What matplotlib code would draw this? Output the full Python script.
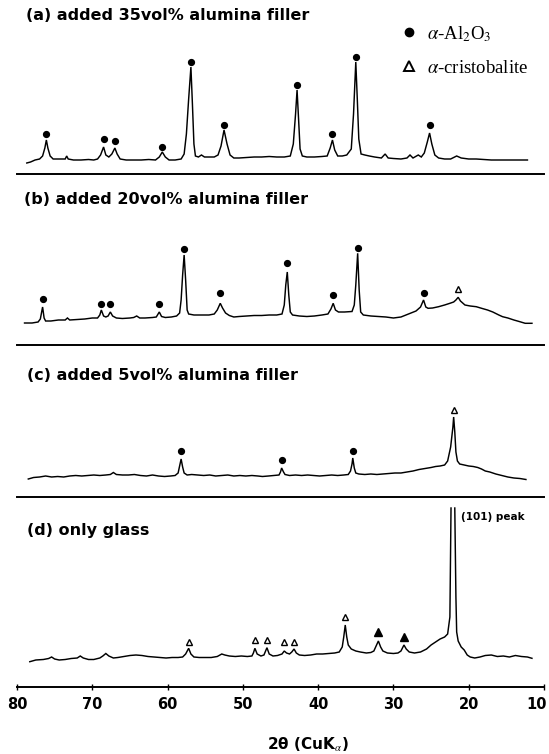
import numpy as np
import matplotlib
matplotlib.use("Agg")
import matplotlib.pyplot as plt
from matplotlib.lines import Line2D
from matplotlib.transforms import ScaledTranslation

plt.rcParams["mathtext.fontset"] = "stix"

# ---------------- data (2theta in degrees, intensity in arbitrary units) -------------
titles = ["(a) added 35vol% alumina filler",
          "(b) added 20vol% alumina filler",
          "(c) added 5vol% alumina filler",
          "(d) only glass"]

tt_a = [78.7, 78.2, 77.6, 77.0, 76.6, 76.3, 76.1, 75.9, 75.6, 75.2, 74.5, 73.6, 73.4, 73.2,
        72.5, 71.5, 70.5, 69.8, 69.3, 68.9, 68.5, 68.2, 67.8, 67.4, 67.0, 66.7, 66.3, 65.5,
        64.5, 63.5, 62.5, 61.6, 61.1, 60.7, 60.3, 59.8, 59.0, 58.2, 57.8, 57.5, 57.2, 56.9,
        56.7, 56.5, 56.3, 55.9, 55.5, 55.1, 54.5, 53.8, 53.3, 52.9, 52.5, 52.1, 51.7, 51.2,
        50.5, 49.5, 48.5, 47.5, 46.5, 45.5, 44.5, 43.7, 43.3, 43.0, 42.8, 42.6, 42.4, 42.1,
        41.5, 40.5, 39.5, 38.8, 38.4, 38.1, 37.8, 37.4, 36.8, 36.2, 35.6, 35.3, 35.0, 34.8,
        34.6, 34.3, 33.8, 33.2, 32.5, 31.6, 31.1, 30.7, 30.0, 29.0, 28.2, 27.8, 27.4, 26.7,
        26.3, 25.9, 25.5, 25.2, 24.9, 24.5, 24.0, 23.2, 22.4, 21.6, 21.0, 20.0, 19.0, 18.0,
        17.0, 16.0, 15.0, 14.0, 13.0, 12.2]
I_a = [11, 12, 14, 15, 18, 26, 34, 26, 18, 15, 15, 15, 18, 15,
       14, 14, 14.5, 14, 15, 19, 27, 19, 17, 20, 26, 20, 15, 14,
       14, 14, 14.5, 14, 17, 22, 17, 14, 14, 15, 20, 40, 75, 107,
       70, 30, 18, 17, 19, 17, 17, 17, 19, 28, 44, 30, 19, 16,
       16, 16.5, 17, 17, 17.5, 17, 17, 18, 30, 60, 84, 55, 25, 18,
       17, 17, 17.5, 18, 26, 34, 24, 18, 18, 19, 25, 60, 112, 75,
       35, 20, 19, 18, 17, 16, 20, 16, 15.5, 15, 16, 19, 16, 19,
       17, 21, 32, 41, 30, 19, 16, 15, 15, 18, 16, 15, 15, 14.5,
       14, 14, 14, 14, 14, 14]

tt_b = [79.0, 78.0, 77.2, 76.9, 76.6, 76.4, 76.2, 75.5, 74.5, 73.6, 73.3, 73.0, 72.0, 71.0,
        70.0, 69.3, 69.0, 68.8, 68.5, 68.2, 67.9, 67.6, 67.3, 66.8, 66.0, 65.0, 64.5, 64.1,
        63.7, 63.0, 62.0, 61.5, 61.1, 60.8, 60.3, 59.5, 58.8, 58.4, 58.2, 58.0, 57.8, 57.6,
        57.4, 57.2, 56.5, 55.5, 54.5, 53.8, 53.4, 53.0, 52.7, 52.3, 51.8, 51.2, 50.5, 49.5,
        48.5, 47.5, 46.5, 45.5, 44.8, 44.5, 44.3, 44.1, 43.9, 43.7, 43.4, 42.5, 41.5, 40.5,
        39.5, 38.7, 38.3, 38.0, 37.7, 37.3, 36.5, 35.5, 35.2, 35.0, 34.75, 34.55, 34.35, 34.0,
        33.0, 32.0, 31.0, 30.0, 29.0, 28.0, 27.0, 26.4, 26.0, 25.7, 25.4, 24.8, 24.0, 23.2,
        22.5, 22.0, 21.7, 21.4, 21.1, 20.5, 19.8, 19.0, 18.2, 17.5, 16.8, 16.0, 15.5, 14.8,
        14.0, 13.3, 12.5, 11.6]
I_b = [22, 22, 23, 26, 38, 27, 24, 24, 25, 25, 27, 25, 25.5, 26,
       27, 27, 30, 35, 29, 28, 29, 33, 29, 27, 26.5, 27, 27.5, 29,
       27, 27, 27.5, 28, 33, 28.5, 27.5, 28, 29, 32, 45, 70, 90, 65,
       35, 31, 30, 30, 30, 31, 35, 41.7, 37, 32, 29.5, 28, 28.5, 29,
       29.5, 29.5, 30, 30, 31, 40, 60, 73, 50, 33, 30, 29, 28.5, 29,
       30, 31, 36, 41.7, 35, 33, 33, 33.5, 40, 60, 91.7, 55, 33, 30,
       29, 28.5, 28, 27, 28, 31, 34, 38, 45, 38, 36.7, 37, 38.3, 40,
       41.7, 43, 45, 47.7, 44, 40, 39, 38.3, 36.5, 35, 33, 30, 28.3, 27,
       25, 23.5, 21.7, 21.7]

tt_c = [78.5, 77.8, 77.0, 76.2, 75.4, 74.6, 73.8, 73.0, 72.2, 71.4, 70.6, 69.8, 69.0, 68.2,
        67.6, 67.2, 66.8, 66.0, 65.2, 64.4, 63.6, 62.8, 62.0, 61.2, 60.4, 59.6, 59.0, 58.6,
        58.4, 58.2, 58.0, 57.8, 57.4, 56.8, 56.0, 55.2, 54.4, 53.6, 52.8, 52.0, 51.2, 50.4,
        49.6, 48.8, 48.0, 47.4, 46.6, 45.9, 45.2, 45.0, 44.85, 44.6, 44.4, 43.8, 43.0, 42.2,
        41.4, 40.6, 39.8, 39.0, 38.2, 37.4, 36.6, 36.0, 35.7, 35.5, 35.4, 35.2, 35.0, 34.6,
        33.8, 33.0, 32.2, 31.4, 30.6, 29.8, 29.0, 28.2, 27.4, 26.6, 25.8, 25.0, 24.4, 23.8,
        23.2, 22.8, 22.4, 22.1, 22.0, 21.85, 21.7, 21.5, 21.2, 20.6, 20.0, 19.4, 18.8, 18.3,
        17.8, 17.2, 16.4, 15.6, 14.8, 14.0, 13.2, 12.4]
I_c = [18, 19.5, 20, 21, 20, 20.5, 20, 21, 21.5, 21, 21.5, 22, 21.5, 22,
       22.5, 24.5, 22.5, 22, 22, 22.5, 21.5, 21, 22, 21, 20.5, 21, 21.5, 24,
       31, 38, 30, 24, 22, 22.5, 22, 21.5, 22, 21, 21.5, 22, 21, 21.5,
       21, 21.5, 21, 20.5, 21, 21.5, 22, 25, 29, 25, 22.5, 21.5, 22, 21.5,
       22, 21.5, 21, 21.5, 22, 21.5, 22, 22.5, 26, 33, 39, 29, 24, 23,
       22.5, 23, 22.5, 23, 23.5, 24, 24, 25, 26, 27.5, 28.5, 29.5, 30.5, 31,
       32, 36, 50, 70, 80, 65, 45, 36, 33, 32, 31, 30.5, 29.5, 28,
       26, 25, 23, 21.5, 20, 19, 18.5, 17.5]

tt_d = [78.3, 77.5, 76.5, 75.8, 75.4, 75.0, 74.4, 73.6, 72.8, 72.0, 71.6, 71.2, 70.5, 69.8,
        69.0, 68.6, 68.2, 67.8, 67.2, 66.6, 65.8, 65.0, 64.2, 63.4, 62.6, 61.8, 61.0, 60.2,
        59.4, 58.6, 58.0, 57.6, 57.2, 56.9, 56.5, 55.8, 55.0, 54.2, 53.4, 52.8, 52.4, 51.8,
        51.0, 50.2, 49.4, 48.8, 48.6, 48.4, 48.1, 47.6, 47.2, 46.8, 46.5, 46.0, 45.4, 44.8,
        44.5, 44.2, 43.8, 43.5, 43.2, 42.9, 42.5, 41.8, 41.0, 40.2, 39.4, 38.6, 37.8, 37.2,
        36.8, 36.6, 36.4, 36.2, 36.0, 35.6, 35.0, 34.4, 33.6, 33.0, 32.6, 32.3, 32.0, 31.7,
        31.4, 30.8, 30.0, 29.4, 29.0, 28.6, 28.3, 27.9, 27.2, 26.4, 25.6, 25.0, 24.4, 23.8,
        23.2, 22.8, 22.5, 22.35, np.nan, 21.85, 21.7, 21.6, 21.4, 21.0, 20.6, 20.2, 19.8, 19.2,
        18.5, 17.8, 17.0, 16.2, 15.4, 14.6, 13.8, 13.0, 12.2, 11.6]
I_d = [25.3, 27, 27.5, 28.5, 30, 28, 27, 27.5, 28.5, 29, 31, 29, 27.5, 27.5,
       29, 31, 33.5, 31, 29, 29.5, 30.5, 31.5, 32, 31.5, 30.5, 30, 29.5, 29,
       29.5, 29.5, 30, 33, 38.7, 33, 30, 29.5, 29.5, 29.5, 30.5, 33, 32, 31,
       30.5, 31, 30.5, 31, 34, 38.7, 33, 31, 32, 39.3, 33, 31, 31.5, 33,
       36, 34, 33, 35, 38, 34, 32, 31.5, 32, 33, 33, 33.5, 34, 35,
       40, 50, 62, 50, 42, 38, 36, 35, 34, 34.5, 36, 41, 46, 40,
       36, 34, 33.5, 34, 36, 42, 38, 35, 34, 35, 38, 42, 45, 48,
       50, 53, 70, 179, np.nan, 179, 90, 55, 46, 40, 37, 32, 30, 29,
       30, 31.5, 32, 30.5, 31, 30, 31.5, 30.5, 30, 28.7]

# peak markers: alpha-Al2O3 (filled circle), alpha-cristobalite (open triangle),
# filled triangles in (d)
al_tt_a = [76.1, 68.5, 67.0, 60.7, 56.9, 52.5, 42.8, 38.1, 35.0, 25.2]
al_h_a = [40, 34.7, 33.3, 27.3, 112, 49, 89, 39.7, 117, 49]
al_tt_b = [76.6, 68.8, 67.6, 61.1, 57.8, 53.0, 44.1, 38.0, 34.75, 26.0]
al_h_b = [45.7, 40.7, 40.7, 40.7, 96, 51.7, 81.7, 50, 97.3, 51.7]
cr_tt_b = [21.4]
cr_h_b = [56]
al_tt_c = [58.2, 44.85, 35.4]
al_h_c = [46, 37, 46]
cr_tt_c = [22.0]
cr_h_c = [87]
cr_tt_d = [57.2, 48.4, 46.8, 44.5, 43.2, 36.4]
cr_h_d = [45.3, 47, 47, 45.3, 45.3, 70.3]
ft_tt_d = [32.0, 28.6]
ft_h_d = [55.3, 50.3]

x_ticks = [80, 70, 60, 50, 40, 30, 20, 10]
legend_labels = [r"$\alpha$-Al$_2$O$_3$", r"$\alpha$-cristobalite"]

# ---------------- layout -------------------------------------------------------------
W, H = 549, 754
fig = plt.figure(figsize=(W / 100, H / 100), dpi=100)

left_px, right_px = 17, 544
# (top_px, bottom_px) of each panel
panels = [(0, 174), (174, 345), (345, 497), (497, 687)]
title_pos = [(26, 15), (24, 199), (27, 376), (27, 531)]

traces = [(tt_a, I_a), (tt_b, I_b), (tt_c, I_c), (tt_d, I_d)]
axes = []
for k, (top, bot) in enumerate(panels):
    ax = fig.add_axes([left_px / W, 1 - bot / H, (right_px - left_px) / W, (bot - top) / H])
    ax.set_xlim(80, 10)
    ax.set_ylim(0, bot - top)
    for s in ["top", "left", "right"]:
        ax.spines[s].set_visible(False)
    ax.spines["bottom"].set_linewidth(1.4)
    ax.set_yticks([])
    ax.patch.set_alpha(0)
    tt, ii = traces[k]
    ax.plot(tt, ii, color="black", lw=1.05, solid_joinstyle="miter")
    if k < 3:
        ax.set_xticks([])
    else:
        ax.set_xticks(x_ticks)
        ax.set_xticklabels([str(t) for t in x_ticks], fontsize=10.5, fontweight="bold")
        ax.tick_params(axis="x", direction="inout", length=5, width=1.0, pad=5)
        ax.set_xlabel(r"2θ (CuK$_\alpha$)", fontsize=11, fontweight="bold")
        ax.xaxis.set_label_coords((308 - left_px) / (right_px - left_px),
                                  -(736 - bot) / (bot - top))
        last = ax.get_xticklabels()[-1]
        last.set_transform(last.get_transform()
                           + ScaledTranslation(-7 / 100, 0, fig.dpi_scale_trans))
    fig.text(title_pos[k][0] / W, 1 - title_pos[k][1] / H, titles[k],
             fontsize=11.5, fontweight="bold", va="center", ha="left", family="DejaVu Sans")
    axes.append(ax)

dot_kw = dict(ls="none", marker="o", ms=4.2, mfc="black", mec="black")
tri_kw = dict(ls="none", marker="^", ms=5, mfc="white", mec="black", mew=1.0)
ftri_kw = dict(ls="none", marker="^", ms=5.5, mfc="black", mec="black")

axes[0].plot(al_tt_a, al_h_a, **dot_kw)
axes[1].plot(al_tt_b, al_h_b, **dot_kw)
axes[1].plot(cr_tt_b, cr_h_b, **tri_kw)
axes[2].plot(al_tt_c, al_h_c, **dot_kw)
axes[2].plot(cr_tt_c, cr_h_c, **tri_kw)
axes[3].plot(cr_tt_d, cr_h_d, **tri_kw)
axes[3].plot(ft_tt_d, ft_h_d, **ftri_kw)
axes[3].text(21.0, 170, "(101) peak", fontsize=7.5, fontweight="bold", va="center", ha="left")

handles = [Line2D([], [], ls="none", marker="o", ms=6, mfc="black", mec="black"),
           Line2D([], [], ls="none", marker="^", ms=7.5, mfc="white", mec="black", mew=1.4)]
fig.legend(handles, legend_labels, loc="upper left",
           bbox_to_anchor=(401 / W, 1 - 24 / H), frameon=False,
           prop={"family": "Liberation Serif", "size": 13.5},
           handlelength=0.9, handletextpad=0.5, labelspacing=0.85,
           borderpad=0, borderaxespad=0)

fig.savefig("out.png", dpi=100)
